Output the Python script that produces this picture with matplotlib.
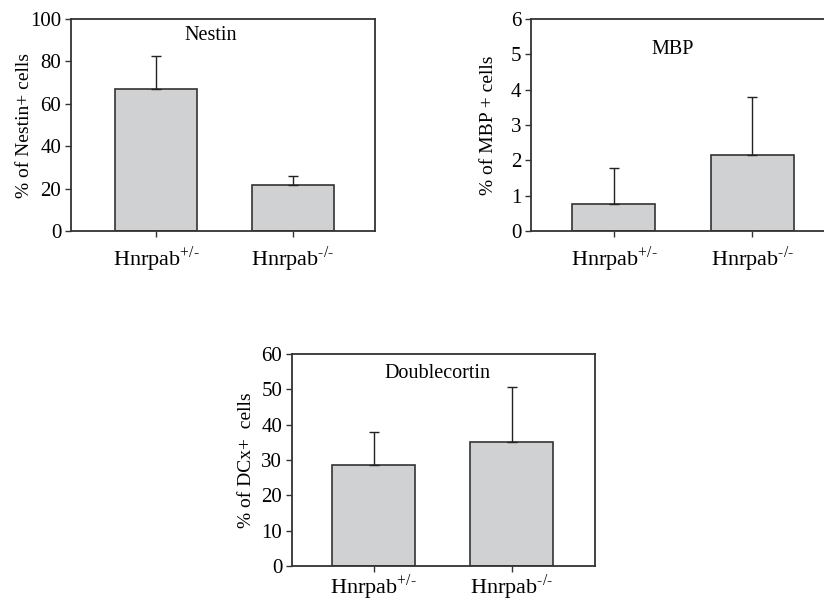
import numpy as np
import matplotlib
matplotlib.use("Agg")
import matplotlib.pyplot as plt

plt.rcParams['font.family'] = ['Liberation Serif', 'DejaVu Serif']
plt.rcParams['mathtext.fontset'] = 'custom'
plt.rcParams['mathtext.rm'] = 'Liberation Serif'

# data
genotypes = [r'Hnrpab$^{\text{+/-}}$', r'Hnrpab$^{\text{-/-}}$']

nestin_mean = [67.1, 21.7]
nestin_err = [15.6, 4.4]

mbp_mean = [0.76, 2.14]
mbp_err = [1.03, 1.65]

dcx_mean = [28.7, 35.2]
dcx_err = [9.3, 15.4]

bar_col = '#d0d1d3'
edge_col = '#333333'

fig = plt.figure(figsize=(8.24, 6.02), dpi=100)

##################################################
##  panels: rect, means, errs, ymax, ticks, ylabel, title, title pos, xlim, right spine, ylabel x, xlabel pad
##################################################

panels = [
    ([71/824, 1-231/602, 304/824, 212/602], nestin_mean, nestin_err, 100, np.arange(0, 101, 20),
     '% of Nestin+ cells', 'Nestin', (0.46, 0.92), (-0.62, 1.6), True, -0.125, 6),
    ([531/824, 1-231/602, 293/824, 212/602], mbp_mean, mbp_err, 6, np.arange(0, 7, 1),
     '% of MBP + cells', 'MBP', (0.485, 0.855), (-0.6, 1.52), False, -0.116, 6),
    ([292/824, 1-566/602, 303/824, 212/602], dcx_mean, dcx_err, 60, np.arange(0, 61, 10),
     '% of DCx+  cells', 'Doublecortin', (0.48, 0.91), (-0.59, 1.6), True, -0.122, 0.5),
]

for rect, mean, err, ymax, ticks, ylab, title, tpos, xlim, right, ylx, xpad in panels:
    ax = fig.add_axes(rect)
    x = np.arange(len(mean))
    ax.bar(x, mean, width=0.6, color=bar_col, edgecolor=edge_col, linewidth=1.2, zorder=2)
    ax.errorbar(x, mean, yerr=[np.zeros(len(err)), err], fmt='none', ecolor='#222222',
                elinewidth=1.0, capsize=3.5, capthick=1.0, zorder=3)
    ax.set_xlim(*xlim)
    ax.set_ylim(0, ymax)
    ax.set_yticks(ticks)
    ax.set_xticks(x)
    ax.set_xticklabels(genotypes, fontsize=16)
    ax.tick_params(axis='y', labelsize=15, length=4, width=1, color=edge_col, pad=3)
    ax.tick_params(axis='x', length=4, width=1, color=edge_col, pad=xpad)
    for s in ax.spines.values():
        s.set_color(edge_col)
        s.set_linewidth(1.3)
    ax.spines['right'].set_visible(right)
    ax.set_ylabel(ylab, fontsize=14)
    ax.yaxis.set_label_coords(ylx, 0.5)
    ax.text(tpos[0], tpos[1], title, transform=ax.transAxes, ha='center', va='center', fontsize=14.5)

fig.savefig('out.png', dpi=100)
